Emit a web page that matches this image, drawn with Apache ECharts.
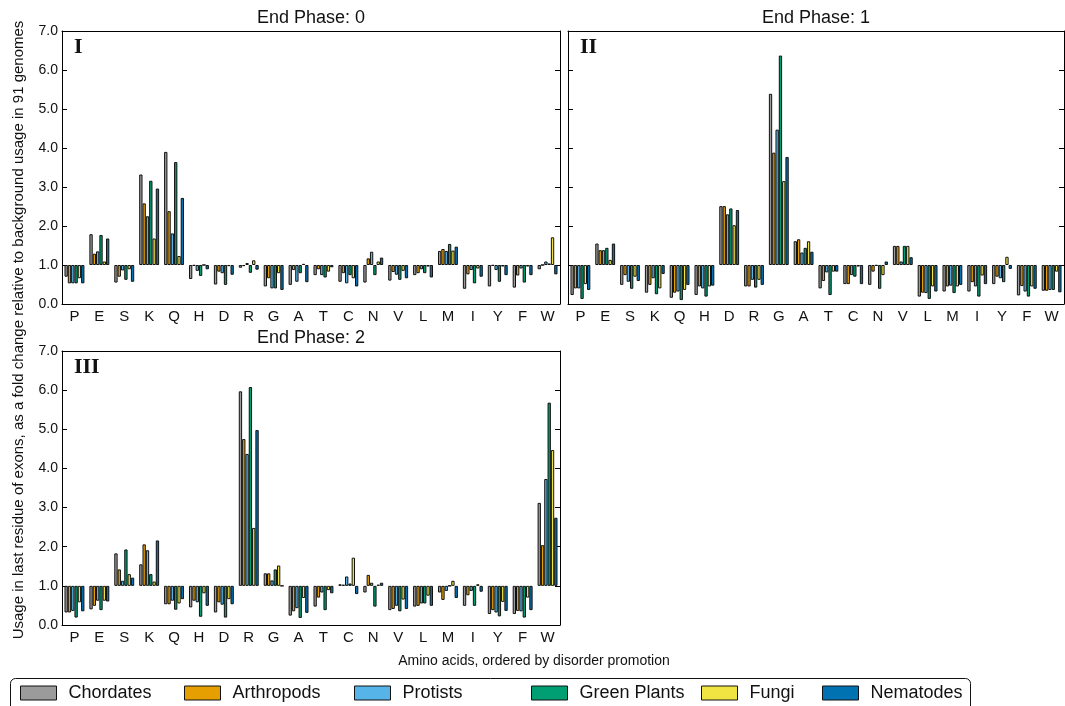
<!DOCTYPE html>
<html>
<head>
<meta charset="utf-8">
<script src="https://cdn.jsdelivr.net/npm/echarts@6/dist/echarts.min.js"></script>
<style>
  html, body { margin: 0; padding: 0; background: #fff; }
  #chart { width: 1065px; height: 706px; }
</style>
</head>
<body>
<div id="chart"></div>
<script>
// amino acids, ordered by disorder promotion
const categories = ['P', 'E', 'S', 'K', 'Q', 'H', 'D', 'R', 'G', 'A', 'T', 'C', 'N', 'V', 'L', 'M', 'I', 'Y', 'F', 'W'];
const groups = ['Chordates', 'Arthropods', 'Protists', 'Green Plants', 'Fungi', 'Nematodes'];
const yTicks = [0, 1, 2, 3, 4, 5, 6, 7];

// End Phase: 0
const phase0Chordates = [0.70, 1.79, 0.55, 3.32, 3.90, 0.64, 0.50, 0.93, 0.45, 0.49, 0.74, 0.57, 0.55, 0.60, 0.74, 1.36, 0.39, 0.45, 0.42, 0.89];
const phase0Arthropods = [0.53, 1.29, 0.70, 2.58, 2.38, 0.98, 0.83, 0.97, 0.66, 0.87, 0.89, 0.79, 1.17, 0.82, 0.79, 1.41, 0.76, 0.98, 0.73, 1.00];
const phase0Protists = [0.53, 1.35, 0.86, 2.25, 1.81, 0.85, 0.79, 1.05, 0.40, 0.57, 0.74, 0.53, 1.34, 0.75, 0.89, 1.36, 0.87, 0.87, 0.91, 1.09];
const phase0GreenPlants = [0.53, 1.77, 0.62, 3.16, 3.64, 0.72, 0.49, 0.80, 0.40, 0.79, 0.68, 0.74, 0.74, 0.62, 0.79, 1.54, 0.53, 0.57, 0.55, 1.04];
const phase0Fungi = [0.66, 1.09, 0.89, 1.68, 1.23, 1.00, 0.97, 1.12, 0.79, 1.03, 0.83, 0.66, 1.09, 0.85, 0.96, 1.37, 0.91, 0.96, 0.96, 1.71];
const phase0Nematodes = [0.53, 1.68, 0.57, 2.96, 2.72, 0.89, 0.75, 0.88, 0.36, 0.56, 0.94, 0.45, 1.19, 0.66, 0.68, 1.47, 0.70, 0.74, 0.74, 0.76];

// End Phase: 1
const phase1Chordates = [0.23, 1.55, 0.49, 0.29, 0.16, 0.23, 2.51, 0.45, 5.39, 1.61, 0.40, 0.51, 0.49, 1.49, 0.19, 0.32, 0.32, 0.51, 0.22, 0.34];
const phase1Arthropods = [0.40, 1.38, 0.74, 0.49, 0.29, 0.45, 2.51, 0.45, 3.88, 1.66, 0.59, 0.51, 0.83, 1.49, 0.29, 0.45, 0.56, 0.70, 0.46, 0.34];
const phase1Protists = [0.40, 1.38, 0.57, 0.66, 0.32, 0.40, 2.30, 0.62, 4.47, 1.32, 0.81, 0.74, 0.98, 1.09, 0.28, 0.47, 0.45, 0.66, 0.32, 0.36];
const phase1GreenPlants = [0.13, 1.44, 0.39, 0.25, 0.10, 0.19, 2.45, 0.42, 6.37, 1.44, 0.23, 0.70, 0.39, 1.49, 0.13, 0.28, 0.19, 0.56, 0.19, 0.36];
const phase1Fungi = [0.51, 1.13, 0.70, 0.40, 0.36, 0.45, 2.02, 0.62, 3.15, 1.61, 0.83, 0.96, 0.74, 1.49, 0.45, 0.45, 0.73, 1.21, 0.45, 0.83];
const phase1Nematodes = [0.36, 1.55, 0.59, 0.77, 0.49, 0.47, 2.41, 0.49, 3.77, 1.34, 0.83, 0.51, 1.09, 1.20, 0.32, 0.49, 0.51, 0.90, 0.39, 0.30];

// End Phase: 2
const phase2Chordates = [0.32, 0.40, 1.83, 1.55, 0.53, 0.45, 0.32, 5.97, 1.32, 0.24, 0.47, 1.04, 0.83, 0.38, 0.47, 0.83, 0.49, 0.28, 0.28, 3.12];
const phase2Arthropods = [0.32, 0.49, 1.42, 2.06, 0.53, 0.62, 0.58, 4.75, 1.32, 0.35, 0.70, 1.03, 1.28, 0.41, 0.49, 0.64, 0.76, 0.38, 0.36, 2.04];
const phase2Protists = [0.36, 0.62, 1.13, 1.91, 0.62, 0.58, 0.52, 4.37, 1.14, 0.43, 0.83, 1.24, 1.08, 0.49, 0.55, 0.87, 0.87, 0.32, 0.35, 3.73];
const phase2GreenPlants = [0.19, 0.38, 1.93, 1.30, 0.39, 0.21, 0.19, 6.08, 1.42, 0.18, 0.38, 1.06, 0.47, 0.35, 0.55, 1.00, 0.49, 0.22, 0.19, 5.68];
const phase2Fungi = [0.58, 0.62, 1.30, 1.11, 0.55, 0.81, 0.66, 2.48, 1.52, 0.69, 0.89, 1.72, 1.03, 0.65, 0.75, 1.13, 1.04, 0.59, 0.70, 4.47];
const phase2Nematodes = [0.35, 0.60, 1.21, 2.16, 0.66, 0.49, 0.53, 4.98, 1.00, 0.31, 0.81, 0.79, 1.08, 0.41, 0.49, 0.69, 0.85, 0.36, 0.38, 2.74];

const phases = [
  [phase0Chordates, phase0Arthropods, phase0Protists, phase0GreenPlants, phase0Fungi, phase0Nematodes],
  [phase1Chordates, phase1Arthropods, phase1Protists, phase1GreenPlants, phase1Fungi, phase1Nematodes],
  [phase2Chordates, phase2Arthropods, phase2Protists, phase2GreenPlants, phase2Fungi, phase2Nematodes],
];

const colors = ['#9b9b9b', '#e69f00', '#56b4e9', '#009e73', '#f0e442', '#0072b2'];
const FONT = 'Liberation Sans';

// bars grow from 1.0 (fold change baseline) -> axis shifted by one, labels shifted back
const BASE = 1;

const grids = [
  { left: 62, top: 31, width: 498, height: 273 },
  { left: 568, top: 31, width: 496, height: 273 },
  { left: 62, top: 351, width: 498, height: 274 },
];

const xAxis = [];
const yAxis = [];
const series = [];

grids.forEach((g, p) => {
  const showY = p !== 1;
  xAxis.push({
    type: 'category', gridIndex: p, position: 'bottom', data: categories,
    axisLine: { onZero: false, lineStyle: { color: '#000', width: 1 } },
    axisTick: { inside: true, alignWithLabel: true, length: 5, lineStyle: { color: '#000' } },
    axisLabel: { color: '#111', fontFamily: FONT, fontSize: 15, margin: 5 },
  });
  xAxis.push({
    type: 'category', gridIndex: p, position: 'top', data: categories,
    axisLine: { onZero: false, lineStyle: { color: '#000', width: 1 } },
    axisTick: { inside: true, alignWithLabel: true, length: 5, lineStyle: { color: '#000' } },
    axisLabel: { show: false },
  });
  const yBase = {
    type: 'value', gridIndex: p, min: yTicks[0] - BASE, max: yTicks[yTicks.length - 1] - BASE, interval: 1,
    splitLine: { show: false },
    axisLine: { show: true, onZero: false, lineStyle: { color: '#000', width: 1 } },
    axisTick: { show: true, inside: true, length: 5, lineStyle: { color: '#000' } },
  };
  yAxis.push(Object.assign({}, yBase, {
    position: 'left',
    axisLabel: {
      show: showY, color: '#111', fontFamily: FONT, fontSize: 14, margin: 4,
      formatter: (v) => (v + BASE).toFixed(1),
    },
  }));
  yAxis.push(Object.assign({}, yBase, { position: 'right', axisLabel: { show: false } }));

  phases[p].forEach((vals, i) => {
    series.push({
      name: groups[i],
      type: 'bar',
      xAxisIndex: p * 2,
      yAxisIndex: p * 2,
      data: vals.map((v) => +(v - BASE).toFixed(3)),
      barGap: '0%',
      barCategoryGap: '20%',
      itemStyle: { color: colors[i], borderColor: '#111', borderWidth: 1 },
      emphasis: { disabled: true },
      animation: false,
    });
  });
});

// one legend per entry so each box lands where it sits in the figure
const legendLeft = [20, 184, 354, 531, 701, 822];
const legend = groups.map((name, i) => ({
  data: [name],
  left: legendLeft[i],
  top: 684,
  itemWidth: 36,
  itemHeight: 14,
  icon: 'rect',
  padding: 0,
  selectedMode: false,
  itemStyle: { borderColor: '#111', borderWidth: 1 },
  textStyle: { fontFamily: FONT, fontSize: 18, color: '#111', padding: [0, 0, 0, 7] },
}));

const text = (x, y, str, extra) => ({
  type: 'text', x, y,
  style: Object.assign({ text: str, fontFamily: FONT, fontSize: 18, fill: '#111', align: 'center', verticalAlign: 'middle' }, extra || {}),
});

const roman = { fontFamily: 'Liberation Serif', fontWeight: 'bold', fontSize: 22, align: 'left' };

const graphic = [
  text(311, 18, 'End Phase: 0'),
  text(816, 18, 'End Phase: 1'),
  text(311, 338, 'End Phase: 2'),
  text(534, 661, 'Amino acids, ordered by disorder promotion', { fontSize: 14 }),
  Object.assign(text(19, 330, 'Usage in last residue of exons, as a fold change relative to background usage in 91 genomes', { fontSize: 15 }), { rotation: Math.PI / 2 }),
  text(74, 47, 'I', roman),
  text(580, 47, 'II', roman),
  text(74, 367, 'III', roman),
  {
    type: 'rect', z: -1,
    shape: { x: 10.5, y: 678.5, width: 960, height: 40, r: 5 },
    style: { fill: '#fff', stroke: '#111', lineWidth: 1 },
  },
];

const chart = echarts.init(document.getElementById('chart'));
chart.setOption({
  animation: false,
  backgroundColor: '#fff',
  grid: grids,
  xAxis,
  yAxis,
  legend,
  series,
  graphic,
});
</script>
</body>
</html>
